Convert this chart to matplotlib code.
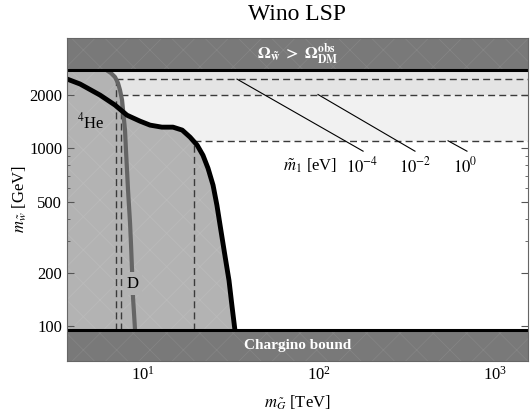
import matplotlib
matplotlib.use("Agg")
import matplotlib.pyplot as plt
import numpy as np

plt.rcParams['font.family'] = ['Liberation Serif', 'DejaVu Serif']
plt.rcParams['mathtext.fontset'] = 'stix'
plt.rcParams['hatch.linewidth'] = 0.6

# 4He bound (black), m_G [TeV] vs m_w [GeV]
he_x = [3.70, 4.39, 5.70, 6.93, 8.11, 9.61, 10.96, 12.8, 14.8, 16.7, 18.5, 20.3,
        21.9, 23.4, 25.0, 26.3, 27.7, 29.2, 30.8, 32.0, 33.3]
he_y = [2443, 2290, 1985, 1745, 1531, 1418, 1347, 1312, 1312, 1263, 1153, 1040,
        913, 772, 620, 478, 346, 250, 181, 131, 95]

# D bound (gray)
d_x = [6.16, 6.58, 6.93, 7.21, 7.40, 7.60, 7.70, 7.90, 8.00, 8.11, 8.22, 8.44,
       8.55, 8.66, 8.77, 8.89, 9.01]
d_y = [2750, 2637, 2506, 2317, 2118, 1862, 1635, 1262, 974, 752, 580, 379,
       285, 207, 146, 118, 95]

omega_bound = 2750   # Omega_w > Omega_DM
chargino_bound = 95

# gravitino-mass lines for m1 = 1e-4, 1e-2, 1 eV
m1_labels = [r'$10^{-4}$', r'$10^{-2}$', r'$10^{0}$']
m1_corner_x = [7.03, 7.50, 19.5]
m1_corner_y = [2440, 2000, 1100]
pointer_start = [(34.2, 2440), (98.7, 2000), (541, 1100)]
pointer_end = [(178, 962), (351, 962), (693, 962)]
label_x = [175, 351, 676]

xmin, xmax = 10**0.568, 10**3.1875
ymin, ymax = 64, 4150

fig = plt.figure(figsize=(5.31, 4.19), dpi=100)
ax = fig.add_axes([67/531, 58/419, 461/531, 323/419])
ax.set_xscale('log')
ax.set_yscale('log')
ax.set_xlim(xmin, xmax)
ax.set_ylim(ymin, ymax)

# light bands
ax.fill_between([xmin, xmax], 1100, 2000, color='#f1f1f1', lw=0, zorder=0)
ax.fill_between([xmin, xmax], 2000, omega_bound, color='#e4e4e4', lw=0, zorder=0)

# excluded BBN region
fill_c = '#b3b3b3'
ax.fill_between(he_x, 10, he_y, facecolor=fill_c, edgecolor='#bababa', hatch='x', lw=0, zorder=1)
ax.fill_betweenx(d_y, 1, d_x, facecolor=fill_c, edgecolor='#bababa', hatch='x', lw=0, zorder=1)

# dashed L lines
for cx, cy in zip(m1_corner_x, m1_corner_y):
    ax.plot([cx, xmax], [cy, cy], ls=(0, (5, 3)), color='#3a3a3a', lw=1, zorder=2)
    ax.plot([cx, cx], [chargino_bound, cy], ls=(0, (5, 3)), color='#3a3a3a', lw=1, zorder=2)

# pointers and labels
for (x0, y0), (x1, y1) in zip(pointer_start, pointer_end):
    ax.plot([x0, x1], [y0, y1], color='black', lw=0.8, zorder=2)
for lx, lab in zip(label_x, m1_labels):
    ax.text(lx, 792, lab, ha='center', va='center', fontsize=12, zorder=5)
ax.text(88.9, 792, r'$\tilde{m}_1$ [eV]', ha='center', va='center', fontsize=12, zorder=5)

# curves
ax.plot(d_x, d_y, color='#656565', lw=3, solid_capstyle='butt', zorder=3)
ax.plot(he_x, he_y, color='black', lw=3.5, zorder=4)

ax.text(8.77, 174, 'D', ha='center', va='center', fontsize=12, zorder=5,
        bbox=dict(facecolor=fill_c, edgecolor='none', pad=2.5))
ax.text(5.07, 1400, r'$^{4}$He', ha='center', va='center', fontsize=12, zorder=5)

# dark bands
band_c = '#797979'
ax.fill_between([xmin, xmax], omega_bound, ymax, facecolor=band_c, edgecolor='#848484',
                hatch='x', lw=0, zorder=6)
ax.fill_between([xmin, xmax], ymin, chargino_bound, facecolor=band_c, edgecolor='#848484',
                hatch='x', lw=0, zorder=6)
ax.axhline(omega_bound, color='black', lw=2.2, zorder=7)
ax.axhline(chargino_bound, color='black', lw=2.2, zorder=7)
ax.text(np.sqrt(xmin * xmax), np.sqrt(omega_bound * ymax),
        r'$\mathbf{\Omega_{\tilde{w}}\ >\ \Omega^{obs}_{DM}}$', color='white',
        ha='center', va='center', fontsize=12, zorder=8)
ax.text(np.sqrt(xmin * xmax), np.sqrt(ymin * chargino_bound), 'Chargino bound',
        color='white', fontweight='bold', ha='center', va='center', fontsize=11, zorder=8)

ax.set_yticks([100, 200, 500, 1000, 2000])
ax.set_yticklabels(['100', '200', '500', '1000', '2000'])
ax.yaxis.set_minor_locator(matplotlib.ticker.LogLocator(base=10, subs=np.arange(1, 10)))
ax.yaxis.set_minor_formatter(matplotlib.ticker.NullFormatter())
ax.tick_params(which='both', direction='in', top=True, right=True, color='#555555',
               labelsize=12, zorder=9)
ax.tick_params(which='major', length=5)
ax.tick_params(which='minor', length=2.5)
for s in ax.spines.values():
    s.set_color('#666666')
    s.set_zorder(10)

ax.set_xlabel(r'$m_{\tilde{G}}$ [TeV]', fontsize=12, labelpad=7)
ax.set_ylabel(r'$m_{\tilde{w}}$ [GeV]', fontsize=12, labelpad=0)
fig.text(297/531, 1 - 14/419, 'Wino LSP', ha='center', va='center', fontsize=17)

fig.savefig('out.png', dpi=100)
